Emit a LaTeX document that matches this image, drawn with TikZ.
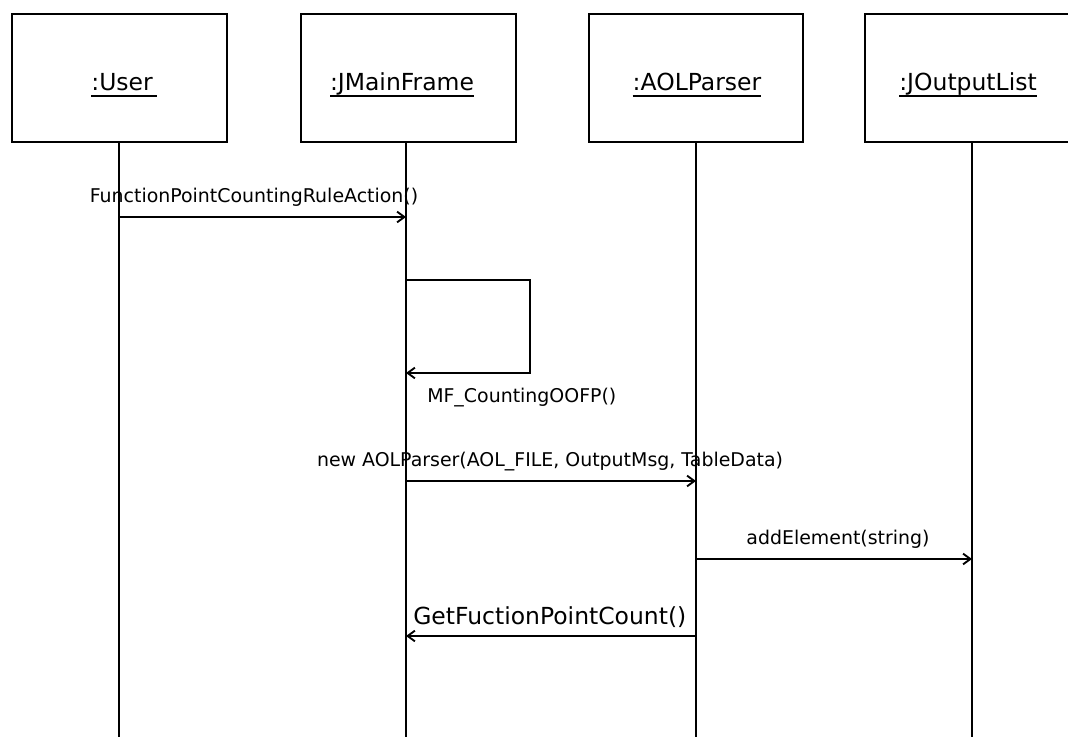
\documentclass[tikz,border=0pt]{standalone}
\usepackage{fontspec}
\setmainfont{DejaVu Sans}
\usetikzlibrary{arrows.meta}

% underline at a fixed depth, so descenders do not push it down
\newcommand\headname[1]{\setbox0\hbox{#1}\rlap{\rule[-4.2pt]{\wd0}{1pt}}\box0}

\tikzset{
  headbox/.style={draw, line width=1.5pt, minimum width=161pt, minimum height=96pt, inner sep=0pt},
  headlabel/.style={inner sep=0pt, anchor=base, font=\fontsize{17.6}{20}\selectfont},
  lifeline/.style={line width=1.4pt},
  msgline/.style={line width=1.4pt, -{Straight Barb[length=5.5pt,width=8pt]}},
  selfline/.style={line width=1.4pt, -{Straight Barb[length=5.5pt,width=8pt]}},
  msglabel/.style={inner sep=0pt, anchor=base, font=\fontsize{14.2}{17}\selectfont},
  biglabel/.style={inner sep=0pt, anchor=base west, font=\fontsize{17.6}{20}\selectfont},
}

\begin{document}
\begin{tikzpicture}[x=0.75pt,y=-0.75pt]
\useasboundingbox (0,0) rectangle (1068,737);
\clip (0,0) rectangle (1068,737);

% object heads
\node[headbox] (user)   at (119.5,78) {};
\node[headbox] (frame)  at (408.5,78) {};
\node[headbox] (parser) at (696,78) {};
\node[headbox] (olist)  at (972,78) {};

\node[headlabel] (userL)   at (124,91) {\headname{:User\,}};
\node[headlabel] (frameL)  at (402,91) {\headname{:JMainFrame}};
\node[headlabel] (parserL) at (697,91) {\headname{:AOLParser}};
\node[headlabel] (olistL)  at (968,91) {\headname{:JOutputList}};

% lifelines
\coordinate (userB)   at (119,740);
\coordinate (frameB)  at (406,740);
\coordinate (parserB) at (696,740);
\coordinate (olistB)  at (972,740);
\draw[lifeline] (userB |- user.south)     -- (userB);
\draw[lifeline] (frameB |- frame.south)   -- (frameB);
\draw[lifeline] (parserB |- parser.south) -- (parserB);
\draw[lifeline] (olistB |- olist.south)   -- (olistB);

% message endpoints
\coordinate (m1a) at (userB |- 0,217);
\coordinate (m1b) at (frameB |- 0,217);
\coordinate (s0)  at (frameB |- 0,280);
\coordinate (s1)  at (530,280);
\coordinate (s2)  at (530,373);
\coordinate (s3)  at (frameB |- 0,373);
\coordinate (m3a) at (frameB |- 0,481);
\coordinate (m3b) at (parserB |- 0,481);
\coordinate (m4a) at (parserB |- 0,559);
\coordinate (m4b) at (olistB |- 0,559);
\coordinate (m5a) at (parserB |- 0,636);
\coordinate (m5b) at (frameB |- 0,636);

% messages
\draw[msgline] (m1a) -- (m1b);
\node[msglabel] (m1L) at (254,203) {FunctionPointCountingRuleAction()};

\draw[selfline] (s0) -- (s1) -- (s2) -- (s3);
\node[msglabel, anchor=base west] (sL) at (427,403) {MF\_CountingOOFP()};

\draw[msgline] (m3a) -- (m3b);
\node[msglabel] (m3L) at (550,467) {new AOLParser(AOL\_FILE, OutputMsg, TableData)};

\draw[msgline] (m4a) -- (m4b);
\node[msglabel] (m4L) at (838,545) {addElement(string)};

\draw[msgline] (m5a) -- (m5b);
\node[biglabel] (m5L) at (413,625) {GetFuctionPointCount()};
\end{tikzpicture}
\end{document}
